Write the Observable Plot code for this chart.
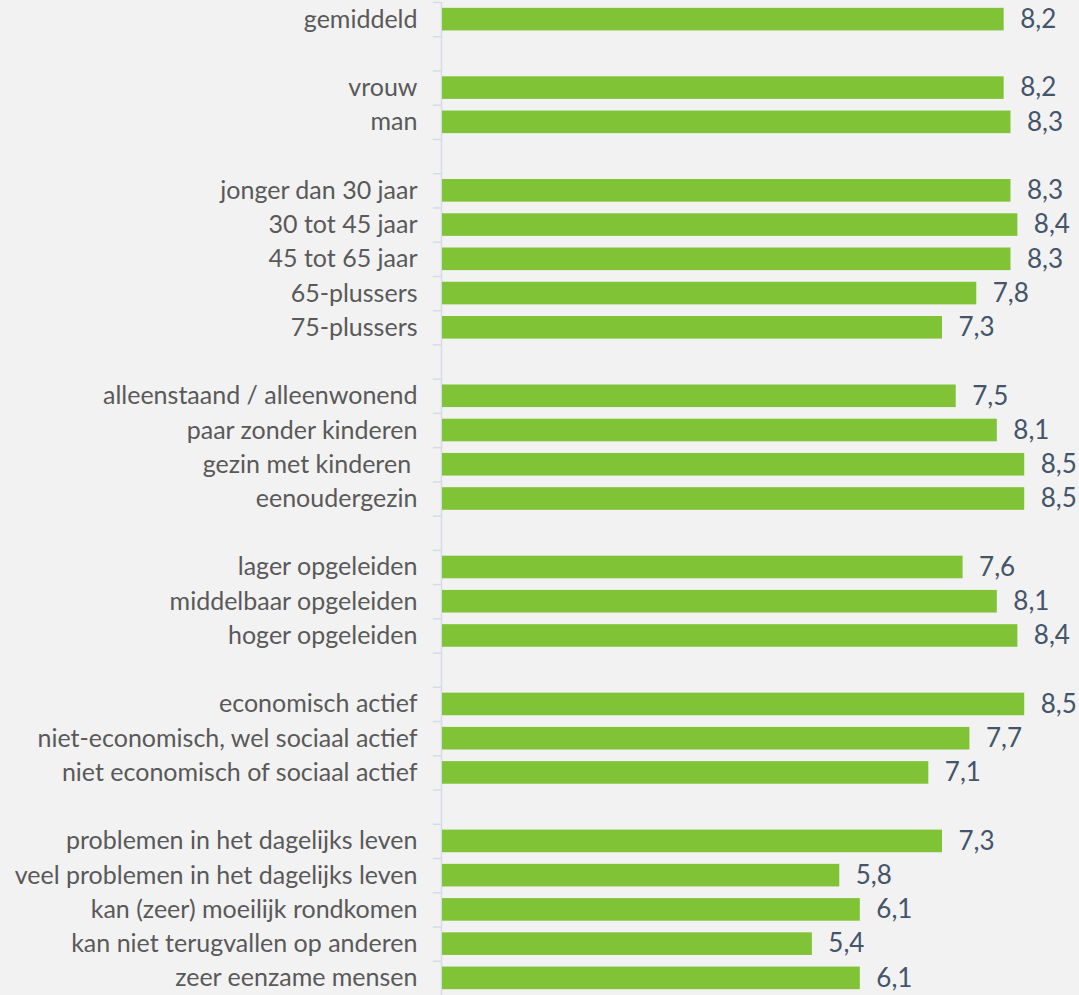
<!DOCTYPE html>
<html>
<head>
<meta charset="utf-8">
<script src="https://cdn.jsdelivr.net/npm/d3@7"></script>
<script src="https://cdn.jsdelivr.net/npm/@observablehq/plot@0.6"></script>
<style>
  html, body { margin: 0; padding: 0; background: #f2f2f2; overflow: hidden; }
</style>
</head>
<body>
<div id="chart"></div>
<script>
const categories = [
  "gemiddeld",
  "vrouw", "man",
  "jonger dan 30 jaar", "30 tot 45 jaar", "45 tot 65 jaar", "65-plussers", "75-plussers",
  "alleenstaand / alleenwonend", "paar zonder kinderen", "gezin met kinderen\u00a0", "eenoudergezin",
  "lager opgeleiden", "middelbaar opgeleiden", "hoger opgeleiden",
  "economisch actief", "niet-economisch, wel sociaal actief", "niet economisch of sociaal actief",
  "problemen in het dagelijks leven", "veel problemen in het dagelijks leven", "kan (zeer) moeilijk rondkomen", "kan niet terugvallen op anderen", "zeer eenzame mensen"
];
const values = [
  8.2,
  8.2, 8.3,
  8.3, 8.4, 8.3, 7.8, 7.3,
  7.5, 8.1, 8.5, 8.5,
  7.6, 8.1, 8.4,
  8.5, 7.7, 7.1,
  7.3, 5.8, 6.1, 5.4, 6.1
];
const groupSizes = [1, 2, 5, 4, 3, 3, 5];

// build domain with spacer rows between groups
const domain = [];
let k = 0;
groupSizes.forEach((n, g) => {
  if (g > 0) domain.push("gap-" + g);
  for (let i = 0; i < n; i++) domain.push(categories[k++]);
});
const data = categories.map((c, i) => ({category: c, value: values[i]}));

const width = 1079;
const height = 995;
const marginTop = 2;
const marginBottom = 0;
const step = (height - marginTop - marginBottom) / domain.length;

const chart = Plot.plot({
  width, height,
  marginTop, marginBottom,
  marginLeft: 442, marginRight: 0,
  style: {background: "#f2f2f2", color: "#595959", fontFamily: "Lato, 'Open Sans', sans-serif"},
  x: {domain: [0, 9.3], axis: null},
  y: {domain, paddingInner: 0.34, paddingOuter: 0.17, round: false, label: null},
  marks: [
    Plot.ruleX([0], {dx: -1, stroke: "#d6dce5", strokeWidth: 1.5}),
    Plot.ruleY(domain, {y: d => d, x1: -0.12, x2: 0, dx: -1, dy: -step / 2, stroke: "#d6dce5", strokeWidth: 1.5}),
    Plot.barX(data, {y: "category", x: "value", fill: "#80c337"}),
    Plot.text(data, {
      y: "category", x: "value",
      text: d => d.value.toFixed(1).replace(".", ","),
      textAnchor: "start", dx: 16, dy: 0,
      fill: "#44546a", fontSize: 26
    }),
    Plot.axisY({
      tickSize: 0, tickPadding: 25, fontSize: 25,
      tickFormat: d => d.startsWith("gap-") ? "" : d,
      label: null
    })
  ]
});
document.getElementById("chart").appendChild(chart);
</script>
</body>
</html>
